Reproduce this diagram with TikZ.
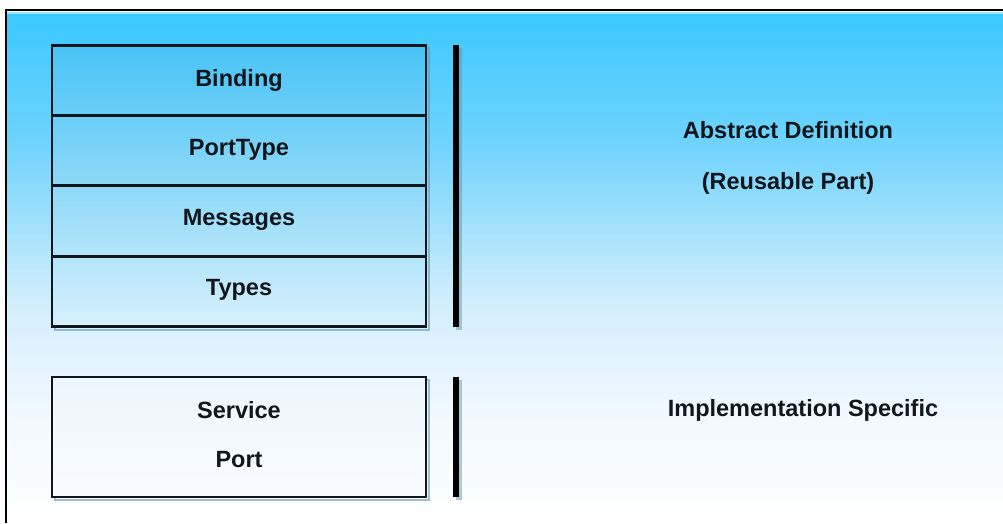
\documentclass[tikz,border=0pt]{standalone}
\usepackage{fontspec}
\setmainfont{Liberation Sans}
\begin{document}
\begin{tikzpicture}[x=1pt,y=-1pt]
\definecolor{bgA}{RGB}{58,200,255}
\definecolor{bgB}{RGB}{115,212,252}
\definecolor{bgC}{RGB}{210,238,252}
\definecolor{bgD}{RGB}{242,249,255}
\definecolor{sA}{RGB}{72,196,246}
\definecolor{sB}{RGB}{106,206,247}
\definecolor{sC}{RGB}{142,217,248}
\definecolor{sD}{RGB}{179,229,250}
\definecolor{sE}{RGB}{215,240,252}
\definecolor{vA}{RGB}{236,246,253}
\definecolor{vB}{RGB}{250,252,255}
\definecolor{ink}{RGB}{18,22,28}
\definecolor{shad}{RGB}{100,150,170}
\tikzset{
  layer/.style={draw=ink, line width=2.6pt, minimum width=374pt, minimum height=70.5pt, inner sep=0pt},
  shadowbox/.style={draw=shad, line width=2.4pt, opacity=0.6},
  lbl/.style={font=\fontsize{23.5}{27}\selectfont\bfseries, text=ink, inner sep=0pt},
  bar/.style={fill=black, minimum width=6pt, inner sep=0pt},
  barshadow/.style={fill=shad, opacity=0.5, minimum width=6pt, inner sep=0pt}
}
\useasboundingbox (0,0) rectangle (1003,523);
\fill[white] (0,0) rectangle (1003,523);
% background gradient
\shade[top color=bgA, bottom color=bgB] (7,12) rectangle (1003,150.5);
\shade[top color=bgB, bottom color=bgC] (7,150) rectangle (1003,300.5);
\shade[top color=bgC, bottom color=bgD] (7,300) rectangle (1003,420.5);
\shade[top color=bgD, bottom color=white] (7,420) rectangle (1003,523);
\fill[white, opacity=0.5] (7,11) rectangle (1003,14);
% outer frame
\draw[line width=2.5pt, black] (6,523) -- (6,10) -- (1003,10);
% shadows
\draw[shadowbox] (55,48) rectangle (429,330);
\draw[shadowbox] (55,380) rectangle (429,500);
\node[barshadow, minimum height=282pt] at (459,189) {};
\node[barshadow, minimum height=120pt] at (459,440) {};
% stack of layers
\node[layer, top color=sA, bottom color=sB] (binding) at (239,80.5) {};
\node[layer, top color=sB, bottom color=sC] (porttype) at (239,151) {};
\node[layer, top color=sC, bottom color=sD] (messages) at (239,221) {};
\node[layer, top color=sD, bottom color=sE] (types) at (239,291.5) {};
\node[layer, minimum height=120pt, top color=vA, bottom color=vB] (service) at (239,437) {};
\node[lbl] (tbinding) at (239,80) {Binding};
\node[lbl] (tporttype) at (239,150) {PortType};
\node[lbl] (tmessages) at (239,220) {Messages};
\node[lbl] (ttypes) at (239,290) {Types};
\node[lbl] (tservice) at (239,410) {Service};
\node[lbl] (tport) at (239,460) {Port};
% bars
\node[bar, minimum height=282pt] (bar1) at (456,186) {};
\node[bar, minimum height=120pt] (bar2) at (456,437) {};
% right labels
\node[lbl] (abs) at (788,130) {Abstract Definition};
\node[lbl] (reuse) at (788,183) {(Reusable Part)};
\node[lbl] (impl) at (803,410) {Implementation Specific};
\end{tikzpicture}
\end{document}
